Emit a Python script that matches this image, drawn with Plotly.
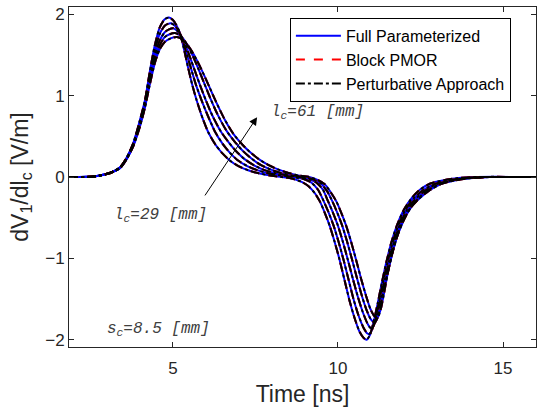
import plotly.graph_objects as go

# l_c values (mm)
lc_values = [29, 37, 45, 53, 61]

# Time [ns] and dV1/dlc [V/m], one list pair per l_c
t_29 = [1.85, 2.6, 3.0, 3.2, 3.4, 3.6, 3.8, 4.0, 4.15, 4.3, 4.45, 4.6, 4.75, 4.88, 5.0, 5.1, 5.21, 5.33, 5.45, 5.58,
        5.72, 5.9, 6.07, 6.3, 6.5, 6.73, 7.0, 7.3, 7.6, 8.0, 8.3, 8.6, 8.9, 9.1, 9.3, 9.45, 9.6, 9.75, 9.9, 10.05,
        10.2, 10.35, 10.5, 10.65, 10.78, 10.87, 10.97, 11.08, 11.2, 11.33, 11.47, 11.62, 11.8, 12.0, 12.25, 12.5,
        12.8, 13.2, 13.6, 14.2, 16.0]
v_29 = [0, 0.005, 0.04, 0.07, 0.12, 0.24, 0.42, 0.7, 0.94, 1.3, 1.62, 1.84, 1.94, 1.96, 1.93, 1.87, 1.77, 1.58, 1.36, 1.14,
        0.94, 0.72, 0.55, 0.39, 0.29, 0.2, 0.13, 0.08, 0.045, 0.015, 0.0, -0.02, -0.06, -0.11, -0.2, -0.3, -0.44, -0.6, -0.8, -1.02,
        -1.27, -1.52, -1.73, -1.9, -1.98, -2.0, -1.94, -1.78, -1.56, -1.3, -1.04, -0.8, -0.58, -0.4, -0.25, -0.15,
        -0.08, -0.04, -0.015, 0, 0]

t_37 = [1.85, 2.6, 3.0, 3.2, 3.4, 3.6, 3.8, 4.0, 4.15, 4.3, 4.45, 4.6, 4.75, 4.85, 4.94, 5.06, 5.17, 5.29, 5.42, 5.55,
        5.7, 5.87, 6.06, 6.27, 6.5, 6.72, 6.95, 7.25, 7.55, 7.85, 8.25, 8.6, 9.0, 9.2, 9.4, 9.57, 9.72, 9.87, 10.02, 10.17,
        10.32, 10.47, 10.62, 10.77, 10.88, 10.95, 11.04, 11.13, 11.24, 11.36, 11.5, 11.66, 11.84, 12.05, 12.3, 12.58,
        12.9, 13.3, 13.75, 14.4, 16.0]
v_37 = [0, 0.005, 0.04, 0.07, 0.12, 0.235, 0.41, 0.68, 0.92, 1.26, 1.56, 1.76, 1.86, 1.882, 1.89, 1.86, 1.8, 1.68, 1.51, 1.33,
        1.13, 0.94, 0.75, 0.56, 0.41, 0.3, 0.21, 0.135, 0.085, 0.05, 0.02, 0.003, -0.03, -0.07, -0.16, -0.3, -0.44, -0.6, -0.8, -1.02,
        -1.26, -1.5, -1.7, -1.85, -1.92, -1.93, -1.87, -1.74, -1.54, -1.3, -1.05, -0.8, -0.58, -0.4, -0.26, -0.16,
        -0.09, -0.045, -0.015, 0, 0]

t_45 = [1.85, 2.6, 3.0, 3.2, 3.4, 3.6, 3.8, 4.0, 4.15, 4.3, 4.45, 4.6, 4.75, 4.88, 5.0, 5.12, 5.24, 5.37, 5.51, 5.66,
        5.82, 6.0, 6.2, 6.45, 6.7, 6.93, 7.17, 7.47, 7.77, 8.07, 8.45, 8.8, 9.15, 9.35, 9.55, 9.7, 9.85, 10.0, 10.15, 10.3,
        10.45, 10.6, 10.75, 10.88, 10.97, 11.03, 11.11, 11.2, 11.3, 11.42, 11.55, 11.7, 11.88, 12.1, 12.35, 12.63,
        12.97, 13.4, 13.85, 14.5, 16.0]
v_45 = [0, 0.005, 0.04, 0.07, 0.115, 0.23, 0.4, 0.66, 0.9, 1.22, 1.5, 1.68, 1.78, 1.815, 1.83, 1.8, 1.74, 1.63, 1.48, 1.31,
        1.13, 0.94, 0.75, 0.56, 0.42, 0.31, 0.22, 0.14, 0.085, 0.05, 0.02, 0.003, -0.03, -0.07, -0.16, -0.3, -0.44, -0.6, -0.8, -1.02,
        -1.25, -1.47, -1.66, -1.79, -1.85, -1.86, -1.8, -1.66, -1.48, -1.26, -1.03, -0.8, -0.58, -0.4, -0.27, -0.17,
        -0.09, -0.045, -0.015, 0, 0]

t_53 = [1.85, 2.6, 3.0, 3.2, 3.4, 3.6, 3.8, 4.0, 4.15, 4.3, 4.45, 4.6, 4.75, 4.9, 5.06, 5.18, 5.31, 5.45, 5.6, 5.76,
        5.94, 6.13, 6.35, 6.62, 6.88, 7.12, 7.37, 7.67, 7.97, 8.27, 8.6, 8.95, 9.28, 9.48, 9.68, 9.83, 9.98, 10.13, 10.28, 10.43,
        10.58, 10.73, 10.87, 10.98, 11.06, 11.12, 11.2, 11.3, 11.41, 11.54, 11.67, 11.83, 12.02, 12.25, 12.52, 12.85,
        13.25, 13.7, 14.2, 14.6, 16.0]
v_53 = [0, 0.005, 0.035, 0.065, 0.11, 0.225, 0.39, 0.64, 0.87, 1.18, 1.45, 1.62, 1.72, 1.755, 1.77, 1.75, 1.7, 1.61, 1.49, 1.34,
        1.16, 0.97, 0.77, 0.57, 0.43, 0.32, 0.23, 0.145, 0.09, 0.05, 0.02, 0.003, -0.035, -0.08, -0.18, -0.3, -0.44, -0.6, -0.8, -1.02,
        -1.25, -1.47, -1.64, -1.74, -1.78, -1.79, -1.73, -1.56, -1.35, -1.12, -0.9, -0.68, -0.5, -0.35, -0.23, -0.13,
        -0.065, -0.025, -0.005, 0, 0]

t_61 = [1.85, 2.6, 3.0, 3.2, 3.4, 3.6, 3.8, 4.0, 4.15, 4.3, 4.45, 4.6, 4.75, 4.93, 5.12, 5.25, 5.39, 5.55, 5.72, 5.9,
        6.1, 6.31, 6.55, 6.83, 7.1, 7.35, 7.6, 7.9, 8.2, 8.5, 8.8, 9.1, 9.4, 9.6, 9.8, 9.95, 10.1, 10.25, 10.4, 10.55,
        10.7, 10.85, 10.98, 11.1, 11.2, 11.3, 11.4, 11.5, 11.62, 11.78, 11.97, 12.2, 12.45, 12.75, 13.1, 13.5,
        14.0, 14.6, 16.0]
v_61 = [0, 0.005, 0.035, 0.065, 0.11, 0.22, 0.38, 0.62, 0.85, 1.14, 1.4, 1.57, 1.66, 1.705, 1.72, 1.7, 1.65, 1.56, 1.44, 1.29,
        1.11, 0.92, 0.72, 0.53, 0.4, 0.3, 0.22, 0.145, 0.09, 0.05, 0.02, 0.003, -0.04, -0.09, -0.2, -0.3, -0.44, -0.6, -0.8, -1.02,
        -1.25, -1.46, -1.62, -1.71, -1.73, -1.62, -1.42, -1.2, -0.98, -0.75, -0.55, -0.38, -0.27, -0.17, -0.09, -0.045,
        -0.015, 0, 0]

times = [t_29, t_37, t_45, t_53, t_61]
values = [v_29, v_37, v_45, v_53, v_61]

series_names = ["Full Parameterized", "Block PMOR", "Perturbative Approach"]
series_colors = ["#0000ff", "#ff0000", "#000000"]
series_dash = ["solid", "dash", "dashdot"]

x_ticks = [5, 10, 15]
y_ticks = [-2, -1, 0, 1, 2]

fig = go.Figure()
for name, color, dash in zip(series_names, series_colors, series_dash):
    for i, (t, v) in enumerate(zip(times, values)):
        fig.add_trace(go.Scatter(
            x=t, y=v, mode="lines", name=name,
            line=dict(color=color, width=2, dash=dash, shape="spline", smoothing=0.6),
            showlegend=(i == 0), legendgroup=name, hoverinfo="skip"))

axis_color = "#262626"
ann_font = dict(family="Liberation Mono", size=16, color="#404040")

fig.update_layout(
    width=537, height=410,
    margin=dict(l=69, r=1, t=7, b=63, autoexpand=False),
    paper_bgcolor="white", plot_bgcolor="white",
    font=dict(family="Liberation Sans", size=17, color=axis_color),
    showlegend=True,
    legend=dict(x=0.473, y=0.968, xanchor="left", yanchor="top",
                bgcolor="white", bordercolor="#000000", borderwidth=1,
                font=dict(family="Liberation Sans", size=16, color="#000000"),
                tracegroupgap=0, itemwidth=45),
    xaxis=dict(range=[1.85, 16.0], tickvals=x_ticks, ticks="inside", ticklen=5, automargin=False,
               showline=True, linecolor=axis_color, linewidth=1, mirror="ticks",
               showgrid=False, zeroline=False, tickcolor=axis_color, ticklabelstandoff=6,
               title=dict(text="Time [ns]", font=dict(size=23), standoff=8)),
    yaxis=dict(range=[-2.09, 2.09], tickvals=y_ticks, ticks="inside", ticklen=5, automargin=False,
               showline=True, linecolor=axis_color, linewidth=1, mirror="ticks",
               showgrid=False, zeroline=False, tickcolor=axis_color,
               title=dict(text="dV<sub>1</sub>/dl<sub>c</sub> [V/m]", font=dict(size=23), standoff=10)),
    annotations=[
        dict(x=7.55, y=0.736, ax=5.94, ay=-0.245, xref="x", yref="y", axref="x", ayref="y",
             text="", showarrow=True, arrowhead=2, arrowsize=1.6, arrowwidth=1, arrowcolor="#000000"),
        dict(x=7.9, y=0.79, xref="x", yref="y", xanchor="left", yanchor="middle", showarrow=False,
             text="<i>l<sub>c</sub>=61 [mm]</i>", font=ann_font),
        dict(x=3.15, y=-0.47, xref="x", yref="y", xanchor="left", yanchor="middle", showarrow=False,
             text="<i>l<sub>c</sub>=29 [mm]</i>", font=ann_font),
        dict(x=2.95, y=-1.87, xref="x", yref="y", xanchor="left", yanchor="middle", showarrow=False,
             text="<i>s<sub>c</sub>=8.5 [mm]</i>", font=ann_font),
    ],
)

fig.write_html("out.html", config={"displayModeBar": False},
               post_script="document.body.style.margin='0';document.body.style.overflow='hidden';")
